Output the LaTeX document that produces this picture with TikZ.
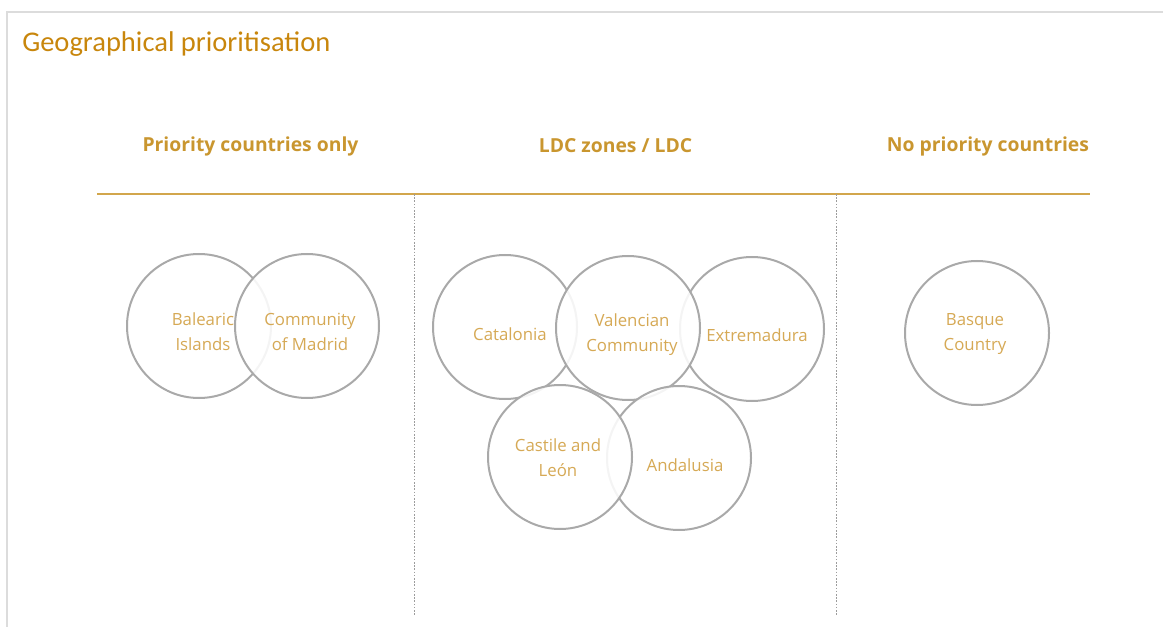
\documentclass[tikz,border=0pt]{standalone}
\usepackage{fontspec}
\setmainfont{Open Sans}
\newfontfamily\titlefont{Carlito}
\newfontfamily\osans{Open Sans}
\definecolor{titleor}{HTML}{C8860C}
\definecolor{headgold}{HTML}{C9962F}
\definecolor{labgold}{HTML}{D6A955}
\definecolor{linegold}{HTML}{D2A64C}
\definecolor{ringgray}{HTML}{A9A9A9}
\definecolor{framegray}{HTML}{DCDCDC}
\definecolor{dotgray}{HTML}{9C9C9C}
\tikzset{
  ring/.style={circle, draw=ringgray, line width=1.5pt, fill=white, fill opacity=0.88, draw opacity=1, minimum size=108pt, inner sep=0pt},
  lab/.style={text=labgold, font=\osans\fontsize{12.6}{18.8}\selectfont, align=center, inner sep=0pt},
  head/.style={text=headgold, font=\osans\bfseries\fontsize{14.5}{16}\selectfont, inner sep=0pt},
  sep/.style={draw=dotgray, line width=0.7pt, dash pattern=on 1.2pt off 1.2pt},
}
\begin{document}
\begin{tikzpicture}[x=0.75pt,y=-0.75pt]
\useasboundingbox (0,0) rectangle (1163,627);
% frame
\coordinate (fTL) at (7,12);
\coordinate (fTR) at (1163,12);
\coordinate (fBL) at (7,627);
\draw[framegray, line width=1.5pt] (fBL) -- (fTL) -- (fTR);
% title
\node[anchor=base west, text=titleor, font=\titlefont\fontsize{21.4}{24}\selectfont, inner sep=0pt] (title) at (22,52) {Geographical prioritisation};
% headers
\node[head] (h1) at (250.5,146) {Priority countries only};
\node[head] (h2) at (615.5,146) {LDC zones / LDC};
\node[head] (h3) at (988,146) {No priority countries};
% rule and separators
\coordinate (rL) at (97,194);
\coordinate (rR) at (1090,194);
\draw[linegold, line width=1.1pt] (rL) -- (rR);
\coordinate (s1t) at (414,194);
\coordinate (s1b) at (414,615);
\coordinate (s2t) at (836,194);
\coordinate (s2b) at (836,615);
\draw[sep] (s1t) -- (s1b);
\draw[sep] (s2t) -- (s2b);
% circles
\node[ring] (balC) at (199,326) {};
\node[ring] (madC) at (307,326) {};
\node[ring] (catC) at (505,327) {};
\node[ring] (extC) at (752,329) {};
\node[ring] (valC) at (628,328) {};
\node[ring] (andC) at (679,458) {};
\node[ring] (casC) at (560,457) {};
\node[ring] (basC) at (977,333) {};
% labels
\node[lab] (balT) at (203,332) {Balearic\\Islands};
\node[lab] (madT) at (310,332) {Community\\of Madrid};
\node[lab] (catT) at (510,334) {Catalonia};
\node[lab] (valT) at (632,335) {Valencian\\Community};
\node[lab] (extT) at (757,335) {Extremadura};
\node[lab] (casT) at (558,458) {Castile and\\León};
\node[lab] (andT) at (685,465) {Andalusia};
\node[lab] (basT) at (975,334) {Basque\\Country};
\end{tikzpicture}
\end{document}
